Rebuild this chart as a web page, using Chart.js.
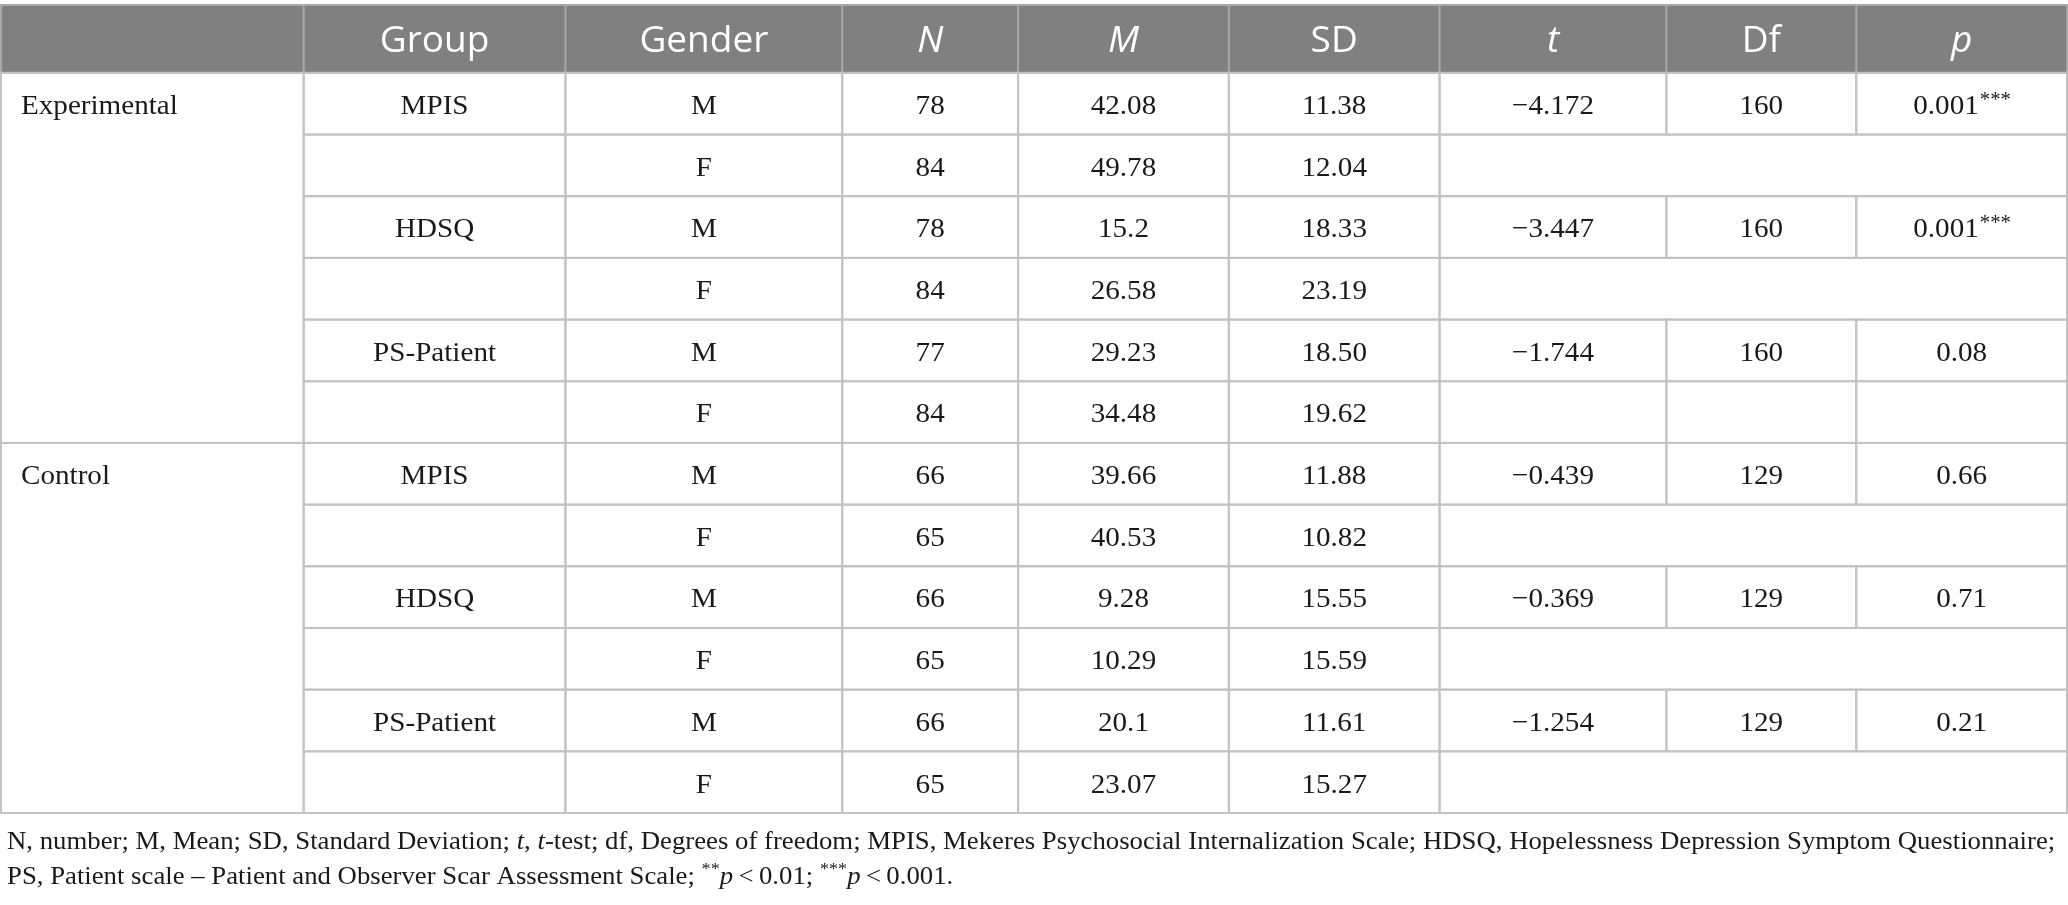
<!DOCTYPE html>
<html>
<head>
<meta charset="utf-8">
<script src="https://cdn.jsdelivr.net/npm/chart.js@4.4.1/dist/chart.umd.min.js"></script>
<style>
  html, body { margin: 0; padding: 0; background: #fff; }
  #wrap { width: 2068px; height: 905px; position: relative; }
</style>
</head>
<body>
<div id="wrap"><canvas id="genderTable"></canvas></div>
<script>
// table content
const groups = ['Experimental', 'Control'];
const measures = ['MPIS', 'HDSQ', 'PS-Patient'];
const genders = ['M', 'F'];
const headers = ['', 'Group', 'Gender', 'N', 'M', 'SD', 't', 'Df', 'p'];
const headerItalic = [false, false, false, true, true, false, true, false, true];

// one entry per row (group x measure x gender)
const nValues = [78, 84, 78, 84, 77, 84, 66, 65, 66, 65, 66, 65];
const meanValues = ['42.08', '49.78', '15.2', '26.58', '29.23', '34.48', '39.66', '40.53', '9.28', '10.29', '20.1', '23.07'];
const sdValues = ['11.38', '12.04', '18.33', '23.19', '18.50', '19.62', '11.88', '10.82', '15.55', '15.59', '11.61', '15.27'];

// one entry per test (group x measure)
const tValues = ['\u22124.172', '\u22123.447', '\u22121.744', '\u22120.439', '\u22120.369', '\u22121.254'];
const dfValues = [160, 160, 160, 129, 129, 129];
const pValues = ['0.001', '0.001', '0.08', '0.66', '0.71', '0.21'];
const pStars = ['***', '***', '', '', '', ''];
const mergedSecondRow = [true, true, false, true, true, true];

const footnote = [
  [['N, number; M, Mean; SD, Standard Deviation; ', 'n'], ['t', 'i'], [', ', 'n'], ['t', 'i'],
   ['-test; df, Degrees of freedom; MPIS, Mekeres Psychosocial Internalization Scale; HDSQ, Hopelessness Depression Symptom Questionnaire;', 'n']],
  [['PS, Patient scale \u2013 Patient and Observer Scar Assessment Scale; ', 'n'], ['**', 's'], ['p', 'i'], ['\u2009<\u20090.01; ', 'n'],
   ['***', 's'], ['p', 'i'], ['\u2009<\u20090.001.', 'n']]
];

// layout: column edges in percent of width, header height in row units
const colEdges = [0, 14.65, 27.32, 40.72, 49.23, 59.43, 69.63, 80.61, 89.80, 100];
const headH = 1.1;
const nRows = 12;

const SERIF = '"Liberation Serif", "DejaVu Serif", serif';
const SANS = '"Open Sans", "Noto Sans", sans-serif';
const BODY_PX = 28, BODY_STRETCH = 1.04;
const NOTE_PX = 25, NOTE_STRETCH = 1.07;

function buildCells() {
  const cells = [];
  groups.forEach((g, gi) => {
    const r0 = gi * 6;
    cells.push({ c0: 0, c1: 1, r0: r0, r1: r0 + 6, text: g, left: true });
    measures.forEach((m, mi) => {
      const ti = gi * 3 + mi;
      genders.forEach((s, si) => {
        const r = r0 + mi * 2 + si;
        cells.push({ c0: 1, c1: 2, r0: r, r1: r + 1, text: si === 0 ? m : '' });
        cells.push({ c0: 2, c1: 3, r0: r, r1: r + 1, text: s });
        cells.push({ c0: 3, c1: 4, r0: r, r1: r + 1, text: String(nValues[r]) });
        cells.push({ c0: 4, c1: 5, r0: r, r1: r + 1, text: meanValues[r] });
        cells.push({ c0: 5, c1: 6, r0: r, r1: r + 1, text: sdValues[r] });
        if (si === 0) {
          cells.push({ c0: 6, c1: 7, r0: r, r1: r + 1, text: tValues[ti] });
          cells.push({ c0: 7, c1: 8, r0: r, r1: r + 1, text: String(dfValues[ti]) });
          cells.push({ c0: 8, c1: 9, r0: r, r1: r + 1, text: pValues[ti], sup: pStars[ti] });
        } else if (mergedSecondRow[ti]) {
          cells.push({ c0: 6, c1: 9, r0: r, r1: r + 1, text: '' });
        } else {
          for (let c = 6; c < 9; c++) cells.push({ c0: c, c1: c + 1, r0: r, r1: r + 1, text: '' });
        }
      });
    });
  });
  return cells;
}

// draw text squeezed/stretched horizontally around an anchor
function stretchText(ctx, txt, x, y, k) {
  ctx.save();
  ctx.translate(x, y);
  ctx.scale(k, 1);
  ctx.fillText(txt, 0, 0);
  ctx.restore();
}

const tablePlugin = {
  id: 'tableDraw',
  afterDatasetsDraw(chart) {
    const { ctx, scales: { x, y } } = chart;
    const X = c => x.getPixelForValue(colEdges[c]);
    const Y = r => y.getPixelForValue(r);
    const rowTop = r => Y(headH + r);

    ctx.save();
    // header band
    const hx0 = X(0), hx1 = X(9), hy0 = Y(0), hy1 = Y(headH);
    ctx.fillStyle = '#808080';
    ctx.fillRect(hx0, hy0, hx1 - hx0, hy1 - hy0);
    ctx.strokeStyle = '#a8a8a8';
    ctx.lineWidth = 2;
    ctx.strokeRect(hx0, hy0, hx1 - hx0, hy1 - hy0);
    for (let c = 1; c < 9; c++) {
      ctx.beginPath();
      ctx.moveTo(X(c), hy0);
      ctx.lineTo(X(c), hy1);
      ctx.stroke();
    }
    ctx.fillStyle = '#ffffff';
    ctx.textAlign = 'center';
    ctx.textBaseline = 'middle';
    headers.forEach((h, c) => {
      if (!h) return;
      ctx.font = (headerItalic[c] ? 'italic ' : '') + '37px ' + SANS;
      ctx.fillText(h, (X(c) + X(c + 1)) / 2, (hy0 + hy1) / 2 + 3);
    });

    // body cells
    const cells = buildCells();
    ctx.strokeStyle = '#c3c3c3';
    ctx.lineWidth = 2;
    cells.forEach(cell => {
      const x0 = X(cell.c0), x1 = X(cell.c1);
      const y0 = rowTop(cell.r0), y1 = rowTop(cell.r1);
      ctx.strokeRect(x0, y0, x1 - x0, y1 - y0);
    });
    ctx.fillStyle = '#1a1a1a';
    ctx.textBaseline = 'middle';
    cells.forEach(cell => {
      if (!cell.text) return;
      const x0 = X(cell.c0), x1 = X(cell.c1);
      const yc = (rowTop(cell.r0) + rowTop(cell.r0 + 1)) / 2 + 3;
      ctx.font = BODY_PX + 'px ' + SERIF;
      if (cell.left) {
        ctx.textAlign = 'left';
        stretchText(ctx, cell.text, x0 + 20, yc, BODY_STRETCH);
        return;
      }
      if (cell.sup) {
        const w1 = ctx.measureText(cell.text).width * BODY_STRETCH;
        ctx.font = '20px ' + SERIF;
        const w2 = ctx.measureText(cell.sup).width * BODY_STRETCH;
        const start = (x0 + x1) / 2 - (w1 + w2) / 2;
        ctx.textAlign = 'left';
        ctx.font = BODY_PX + 'px ' + SERIF;
        stretchText(ctx, cell.text, start, yc, BODY_STRETCH);
        ctx.font = '20px ' + SERIF;
        stretchText(ctx, cell.sup, start + w1 + 1, yc - 6, BODY_STRETCH);
        return;
      }
      ctx.textAlign = 'center';
      stretchText(ctx, cell.text, (x0 + x1) / 2, yc, BODY_STRETCH);
    });

    // footnote under the table
    const fy = [Y(headH + nRows) + 29, Y(headH + nRows) + 64];
    ctx.textAlign = 'left';
    ctx.fillStyle = '#1a1a1a';
    footnote.forEach((line, li) => {
      let cx = 7;
      line.forEach(([txt, kind]) => {
        if (kind === 's') {
          ctx.font = '17px ' + SERIF;
          stretchText(ctx, txt, cx, fy[li] - 7, NOTE_STRETCH);
        } else {
          ctx.font = (kind === 'i' ? 'italic ' : '') + NOTE_PX + 'px ' + SERIF;
          stretchText(ctx, txt, cx, fy[li], NOTE_STRETCH);
        }
        cx += ctx.measureText(txt).width * NOTE_STRETCH;
      });
    });
    ctx.restore();
  }
};

new Chart(document.getElementById('genderTable'), {
  type: 'scatter',
  data: { datasets: [{ label: 'cells', data: [], pointRadius: 0 }] },
  options: {
    responsive: true,
    maintainAspectRatio: false,
    animation: false,
    layout: { padding: { left: 1, right: 1, top: 5, bottom: 92 } },
    plugins: { legend: { display: false }, tooltip: { enabled: false }, title: { display: false } },
    scales: {
      x: { type: 'linear', min: 0, max: 100, display: false },
      y: { type: 'linear', min: 0, max: headH + nRows, reverse: true, display: false }
    }
  },
  plugins: [tablePlugin]
});
</script>
</body>
</html>
